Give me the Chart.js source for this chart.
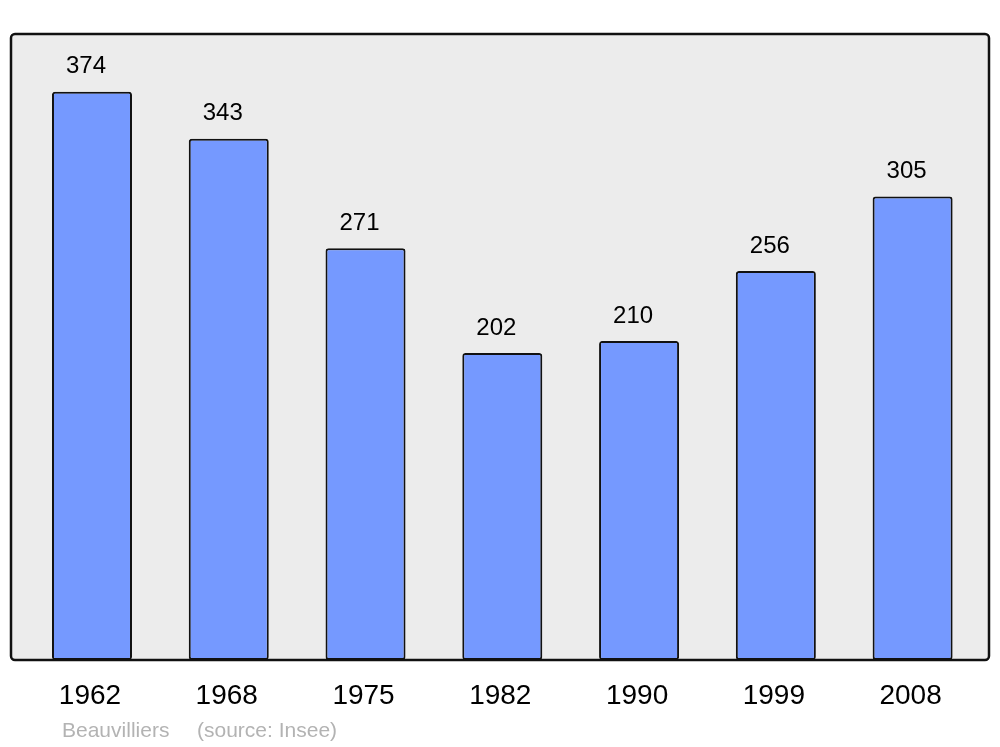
<!DOCTYPE html>
<html>
<head>
<meta charset="utf-8">
<script src="https://cdn.jsdelivr.net/npm/chart.js@4/dist/chart.umd.min.js"></script>
<style>
  html, body { margin: 0; padding: 0; background: #fff; }
  #wrap { width: 1000px; height: 747px; }
</style>
</head>
<body>
<div id="wrap"><canvas id="pop-chart"></canvas></div>
<script>
// population by census year
var years = ["1962", "1968", "1975", "1982", "1990", "1999", "2008"];
var population = [374, 343, 271, 202, 210, 256, 305];
var yMin = 0;
var yMax = 412;
var footerText = ["Beauvilliers", "(source: Insee)"];

var FONT = "'Liberation Sans', Arial, sans-serif";

// grey rounded panel behind the bars
var panelPlugin = {
	id : "panel",
	beforeDraw : function(chart) {
		var c = chart.ctx, a = chart.chartArea;
		var x = a.left - 12.6, y = a.top, w = (a.right + 8) - x, h = a.bottom - a.top;
		c.save();
		c.beginPath();
		c.roundRect(x, y, w, h, 4);
		c.fillStyle = "#ececec";
		c.fill();
		c.restore();
	},
	afterDatasetsDraw : function(chart) {
		var c = chart.ctx, a = chart.chartArea;
		var x = a.left - 12.6, y = a.top, w = (a.right + 8) - x, h = a.bottom - a.top;
		c.save();
		c.beginPath();
		c.roundRect(x, y, w, h, 4);
		c.lineWidth = 2.5;
		c.strokeStyle = "#111";
		c.stroke();

		// value labels above bars
		var meta = chart.getDatasetMeta(0);
		c.font = "24px " + FONT;
		c.fillStyle = "#000";
		c.textAlign = "center";
		c.textBaseline = "middle";
		meta.data.forEach(function(bar, i) {
			c.fillText(String(population[i]), bar.x - 6, bar.y - 25);
		});

		// footer
		c.font = "21px " + FONT;
		c.fillStyle = "#b3b3b3";
		c.textAlign = "left";
		c.textBaseline = "alphabetic";
		c.fillText(footerText[0], 62, 737);
		c.fillText(footerText[1], 197, 737);
		c.restore();
	}
};

var ctx = document.getElementById("pop-chart");

var data = {
	labels : years,
	datasets : [
		{
			label : "Population",
			data : population,
			backgroundColor : "#7599ff",
			borderColor : "#111",
			borderWidth : 2,
			borderRadius : 3,
			borderSkipped : false,
			barPercentage : 0.585,
			categoryPercentage : 1
		}
	]
};

var options = {
	responsive : true,
	maintainAspectRatio : false,
	animation : false,
	layout : {
		padding : { top : 34, left : 23.6, right : 19, bottom : 15.4 }
	},
	plugins : {
		legend : { display : false },
		tooltip : { enabled : false }
	},
	scales : {
		x : {
			grid : { display : false, drawTicks : false },
			border : { display : false },
			ticks : {
				color : "#000",
				padding : 19,
				labelOffset : -2,
				font : { size : 28, family : FONT }
			}
		},
		y : {
			display : false,
			min : yMin,
			max : yMax
		}
	}
};

var chart = new Chart(ctx, {
	type : "bar",
	data : data,
	options : options,
	plugins : [panelPlugin]
});
</script>
</body>
</html>
